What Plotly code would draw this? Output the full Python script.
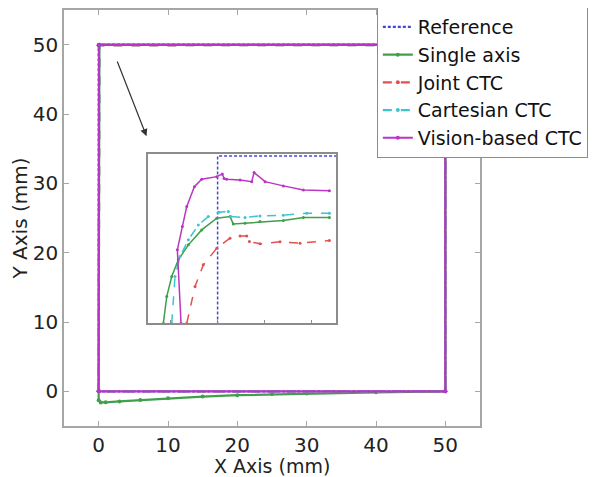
import plotly.graph_objects as go

# ---------------- main view data (mm) ----------------
ref_x = [0, 0, 50, 50, 0]
ref_y = [0, 50, 50, 0, 0]

single_x = [0, 0, 0.1, 50, 50, 40, 30, 25, 20, 15, 10, 6, 3, 1, 0.3, 0, 0]
single_y = [0, 49.9, 50, 50, 0, -0.15, -0.3, -0.4, -0.55, -0.75, -1.0, -1.25, -1.45, -1.58, -1.6, -1.3, 0]

joint_x = [0, 0, 0.1, 50, 50, 0]
joint_y = [0, 49.85, 49.9, 49.95, 0, 0]

cart_x = [0, 0, 0.1, 50, 50, 0]
cart_y = [0, 49.9, 49.92, 49.95, 0, 0]

vision_x = [0, 0, 0.05, 50, 50, 0]
vision_y = [0, 49.95, 49.97, 50, 0, 0]

# ---------------- inset (zoom of top-left corner, arbitrary zoomed units) ----------------
in_ref_x = [0, 0, 1.5]
in_ref_y = [47.5, 50, 50]

in_single_x = [-0.577, -0.541, -0.488, -0.418, -0.311, -0.169, -0.009, 0.132, 0.167, 0.292, 0.451, 0.699, 0.912, 1.189]
in_single_y = [47.996, 48.315, 48.555, 48.755, 48.935, 49.114, 49.255, 49.274, 49.186, 49.195, 49.214, 49.226, 49.262, 49.262]

in_joint_x = [-0.328, -0.240, -0.152, -0.009, 0.132, 0.239, 0.310, 0.338, 0.451, 0.664, 0.877, 1.189]
in_joint_y = [47.996, 48.435, 48.695, 48.895, 49.015, 49.042, 49.042, 48.974, 48.947, 48.971, 48.955, 48.986]

in_cart_x = [-0.488, -0.453, -0.400, -0.311, -0.205, -0.099, 0.015, 0.114, 0.138, 0.292, 0.451, 0.699, 0.948, 1.189]
in_cart_y = [47.996, 48.555, 48.794, 48.995, 49.174, 49.274, 49.326, 49.334, 49.274, 49.262, 49.282, 49.291, 49.314, 49.314]

in_vision_x = [-0.389, -0.428, -0.375, -0.328, -0.247, -0.169, -0.009, 0.050, 0.069, 0.097, 0.239, 0.363, 0.388, 0.505, 0.699, 0.912, 1.189]
in_vision_y = [47.996, 48.875, 49.154, 49.394, 49.633, 49.722, 49.753, 49.785, 49.731, 49.722, 49.713, 49.693, 49.801, 49.693, 49.642, 49.594, 49.585]

names = ["Reference", "Single axis", "Joint CTC", "Cartesian CTC", "Vision-based CTC"]
colors = ["#4646dc", "#3f9f4a", "#e0514f", "#3cc4cf", "#bb35c4"]
dashes = ["3px,2px", "solid", "dash", "dash", "solid"]
x_title = "X Axis (mm)"
y_title = "Y Axis (mm)"

main_sets = [(ref_x, ref_y), (single_x, single_y), (joint_x, joint_y),
             (cart_x, cart_y), (vision_x, vision_y)]
inset_sets = [(in_ref_x, in_ref_y), (in_single_x, in_single_y), (in_joint_x, in_joint_y),
              (in_cart_x, in_cart_y), (in_vision_x, in_vision_y)]

fig = go.Figure()
for i, (name, (x, y)) in enumerate(zip(names, main_sets)):
    fig.add_trace(go.Scatter(
        x=x, y=y, name=name,
        mode="lines" if i == 0 else "lines+markers",
        line=dict(color=colors[i], width=2.2, dash=dashes[i]),
        marker=dict(size=4, color=colors[i]),
        xaxis="x", yaxis="y",
    ))
for i, (x, y) in enumerate(inset_sets):
    fig.add_trace(go.Scatter(
        x=x, y=y, showlegend=False,
        mode="lines" if i == 0 else "lines+markers",
        line=dict(color=colors[i], width=1.5, dash=dashes[i]),
        marker=dict(size=3, color=colors[i]),
        xaxis="x2", yaxis="y2",
    ))

font_family = "DejaVu Sans"
axis_common = dict(showgrid=False, zeroline=False, showline=True, mirror="ticks",
                   linecolor="#a6a6a6", linewidth=1.5, ticks="inside", ticklen=5,
                   tickcolor="#a6a6a6", tickfont=dict(size=20, color="#222222", family=font_family))

# the page body adds an 8px offset, so margins are shifted to compensate
fig.update_layout(
    width=600, height=477,
    margin=dict(l=56, r=128, t=2, b=59, autoexpand=False),
    paper_bgcolor="white", plot_bgcolor="white",
    font=dict(family=font_family, size=20, color="#222222"),
    xaxis=dict(range=[-5, 55], tickvals=[0, 10, 20, 30, 40, 50], domain=[0, 1], automargin=False,
               **axis_common),
    yaxis=dict(range=[-5, 55], tickvals=[0, 10, 20, 30, 40, 50], domain=[0, 1], automargin=False,
               title=dict(text=y_title, font=dict(size=20), standoff=6), **axis_common),
    xaxis2=dict(domain=[0.202, 0.654], range=[-0.74, 1.26], anchor="y2",
                showgrid=False, zeroline=False, showline=True, mirror=True,
                linecolor="#8c8c8c", linewidth=1.5, ticks="inside", ticklen=3,
                tickcolor="#8c8c8c", dtick=0.5, tick0=0, showticklabels=False),
    yaxis2=dict(domain=[0.248, 0.654], range=[48.0, 50.025], anchor="x2",
                showgrid=False, zeroline=False, showline=True, mirror=True,
                linecolor="#8c8c8c", linewidth=1.5, ticks="", showticklabels=False),
    legend=dict(x=0.752, y=1.007, xanchor="left", yanchor="top",
                bgcolor="white", bordercolor="#8c8c8c", borderwidth=1,
                font=dict(size=19, color="#111111", family=font_family),
                itemwidth=30, tracegroupgap=0),
    showlegend=True,
)

# x-axis title as text placed just below the tick labels
fig.add_annotation(x=0.5, y=-0.0962, xref="paper", yref="paper", xanchor="center", yanchor="middle",
                   text=x_title, showarrow=False, borderpad=0,
                   font=dict(size=19, color="#222222", family=font_family))

fig.add_annotation(x=6.9, y=36.8, ax=2.6, ay=47.8, xref="x", yref="y", axref="x", ayref="y",
                   showarrow=True, arrowhead=2, arrowsize=1.2, arrowwidth=1.2,
                   arrowcolor="#333333", text="")

fig.write_html("out.html")
